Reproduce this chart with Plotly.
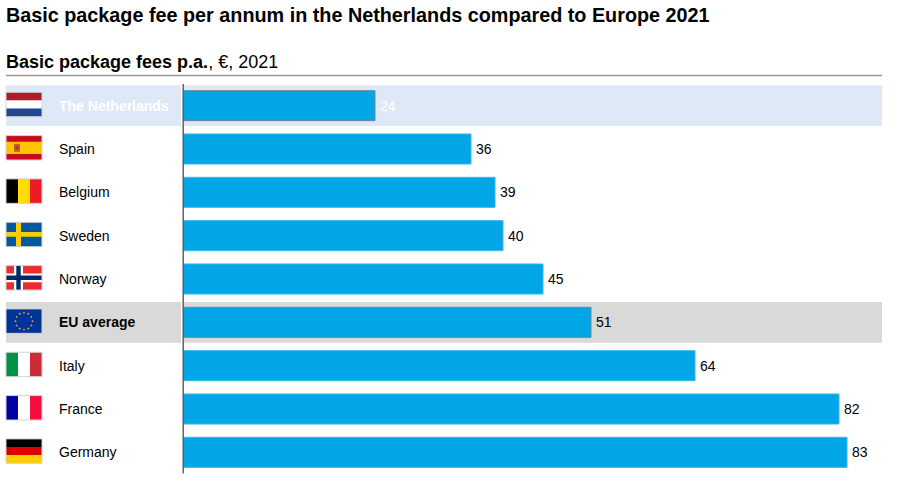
import math
import plotly.graph_objects as go

# ---- data ----
categories = ["The Netherlands", "Spain", "Belgium", "Sweden", "Norway", "EU average", "Italy", "France", "Germany"]
values = [24, 36, 39, 40, 45, 51, 64, 82, 83]
title_text = "Basic package fee per annum in the Netherlands compared to Europe 2021"
subtitle_text = "<b>Basic package fees p.a.</b>, €, 2021"

# ---- style ----
W, H = 900, 481
L, R, T, B = 183, 883, 84, 473.6
STEP = (B - T) / len(categories)
BLUE = "#00a6e6"
FONT = "Liberation Sans, Arial, sans-serif"
label_colors = ["#ffffff" if c == "The Netherlands" else "#000000" for c in categories]
bar_edges = ["#6f8796" if c in ("The Netherlands", "EU average") else "#33b8ee" for c in categories]

def px(x):
    return (x - L) / (R - L)

def py(y):
    return (B - y) / (B - T)

def rect(x0, y0, x1, y1, fill, line=None, layer="above"):
    return dict(type="rect", xref="paper", yref="paper", x0=px(x0), x1=px(x1), y0=py(y0), y1=py(y1),
                fillcolor=fill, line=dict(color=line or fill, width=1 if line else 0), layer=layer)

shapes = []
# highlight bands
for name, col in (("The Netherlands", "#dfe8f6"), ("EU average", "#d9d9d9")):
    c = T + STEP * (categories.index(name) + 0.5)
    shapes.append(rect(6, c - 20.3, 181, c + 20.3, col, layer="below"))
    shapes.append(rect(184, c - 20.3, 882, c + 20.3, col, layer="below"))
# header rule
shapes.append(dict(type="line", xref="paper", yref="paper", x0=px(6), x1=px(882), y0=py(75.5), y1=py(75.5),
                   line=dict(color="#999999", width=1.3)))
# category axis rule
shapes.append(dict(type="line", xref="paper", yref="paper", x0=px(183.2), x1=px(183.2), y0=py(84), y1=py(473),
                   line=dict(color="#595959", width=1.4), layer="above"))

FX0, FX1, FH = 6, 42, 24.4

def h_stripes(cy, cols):
    top = cy - FH / 2
    return [rect(FX0, top + FH * k / len(cols), FX1, top + FH * (k + 1) / len(cols), col) for k, col in enumerate(cols)]

def v_stripes(cy, cols):
    top = cy - FH / 2
    w = (FX1 - FX0) / len(cols)
    return [rect(FX0 + w * k, top, FX0 + w * (k + 1), top + FH, col) for k, col in enumerate(cols)]

def star_path(cx, cy, r):
    pts = []
    for k in range(10):
        a = -math.pi / 2 + k * math.pi / 5
        rr = r if k % 2 == 0 else r * 0.4
        pts.append((px(cx + rr * math.cos(a)), py(cy + rr * math.sin(a))))
    return "M" + " L".join(f"{a:.5f},{b:.5f}" for a, b in pts) + " Z"

for i, name in enumerate(categories):
    cy = T + STEP * (i + 0.5) - 1.2
    top = cy - FH / 2
    if name == "The Netherlands":
        shapes += h_stripes(cy, ["#ae1c28", "#ffffff", "#21468b"])
    elif name == "Spain":
        shapes.append(rect(FX0, top, FX1, top + FH, "#c60b1e"))
        shapes.append(rect(FX0, top + FH / 4, FX1, top + FH * 3 / 4, "#ffc400"))
        shapes.append(rect(14, cy - 4, 20, cy + 4, "#b5622c"))
        shapes.append(rect(15.5, cy - 2, 18.5, cy + 2, "#c9302c"))
    elif name == "Belgium":
        shapes += v_stripes(cy, ["#000000", "#ffdd00", "#ed1c24"])
    elif name == "Sweden":
        shapes.append(rect(FX0, top, FX1, top + FH, "#04589f"))
        shapes.append(rect(FX0, cy - 2.4, FX1, cy + 2.4, "#ffcc00"))
        shapes.append(rect(16, top, 21, top + FH, "#ffcc00"))
    elif name == "Norway":
        shapes.append(rect(FX0, top, FX1, top + FH, "#ef2b2d"))
        shapes.append(rect(FX0, cy - 4.4, FX1, cy + 4.4, "#ffffff"))
        shapes.append(rect(14, top, 23, top + FH, "#ffffff"))
        shapes.append(rect(FX0, cy - 2.2, FX1, cy + 2.2, "#002868"))
        shapes.append(rect(16.3, top, 20.7, top + FH, "#002868"))
    elif name == "EU average":
        shapes.append(rect(FX0, top, FX1, top + FH, "#003399"))
        for k in range(12):
            a = k * math.pi / 6
            shapes.append(dict(type="path", xref="paper", yref="paper", layer="above",
                               path=star_path(24 + 8.5 * math.cos(a), cy + 8.5 * math.sin(a), 1.4),
                               fillcolor="#ffcc00", line=dict(width=0)))
    elif name == "Italy":
        shapes += v_stripes(cy, ["#009246", "#ffffff", "#ce2b37"])
    elif name == "France":
        shapes += v_stripes(cy, ["#0000a4", "#ffffff", "#f70d3f"])
    elif name == "Germany":
        shapes += h_stripes(cy, ["#000000", "#dd0000", "#ffce00"])
    shapes.append(dict(type="rect", xref="paper", yref="paper", x0=px(FX0), x1=px(FX1), y0=py(top), y1=py(top + FH),
                       line=dict(color="#cfd3d8", width=1), fillcolor="rgba(0,0,0,0)", layer="above"))

annotations = [
    dict(xref="paper", yref="paper", x=px(6), y=py(62), text=subtitle_text, showarrow=False, xanchor="left",
         yanchor="middle", xshift=-2, font=dict(family=FONT, size=18, color="#000000")),
]
for i, name in enumerate(categories):
    bold = name in ("The Netherlands", "EU average")
    annotations.append(dict(xref="paper", yref="y", x=px(59), y=i, text=f"<b>{name}</b>" if bold else name,
                            showarrow=False, xanchor="left", yanchor="middle", xshift=-2,
                            font=dict(family=FONT, size=14, color=label_colors[i])))
    annotations.append(dict(xref="x", yref="y", x=values[i], y=i, text=str(values[i]), showarrow=False,
                            xanchor="left", yanchor="middle", xshift=3,
                            font=dict(family=FONT, size=14, color=label_colors[i])))

fig = go.Figure(go.Bar(
    y=categories, x=values, orientation="h", width=0.693,
    marker=dict(color=BLUE, line=dict(color=bar_edges, width=1)),
    hoverinfo="skip",
))
fig.update_layout(
    width=W, height=H, paper_bgcolor="#ffffff", plot_bgcolor="rgba(0,0,0,0)",
    margin=dict(l=L, r=W - R, t=T, b=H - B, pad=0), showlegend=False,
    title=dict(text=f"<b>{title_text}</b>", x=6 / W, xanchor="left", y=1 - 15 / H, yanchor="middle",
               font=dict(family=FONT, size=19.8, color="#000000")),
    xaxis=dict(range=[0, 87.5], visible=False, fixedrange=True),
    yaxis=dict(categoryorder="array", categoryarray=categories, range=[8.5, -0.5], showticklabels=False, ticks="",
               showgrid=False, zeroline=False, showline=False, fixedrange=True),
    shapes=shapes, annotations=annotations,
)
fig.write_html("out.html", config={"displayModeBar": False}, post_script="document.body.style.margin='0';")
